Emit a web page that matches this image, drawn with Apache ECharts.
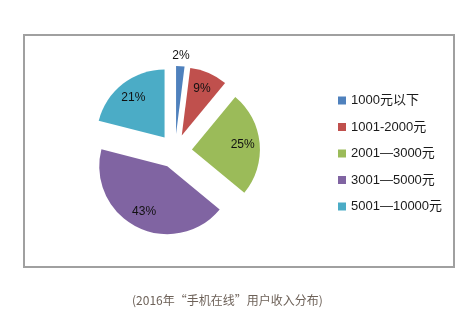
<!DOCTYPE html>
<html>
<head>
<meta charset="utf-8">
<script src="https://cdn.jsdelivr.net/npm/echarts@6/dist/echarts.min.js"></script>
<style>
  html, body { margin: 0; padding: 0; background: #fff; }
  #chart { width: 468px; height: 327px; }
</style>
</head>
<body>
<div id="chart"></div>
<script>
// Income brackets of mobile users, 2016 (share in %)
const categories = ['1000元以下', '1001-2000元', '2001—3000元', '3001—5000元', '5001—10000元'];
const shares = [2, 9, 25, 43, 21];
const colors = ['#4F81BD', '#C0504D', '#9BBB59', '#8064A2', '#4BACC6'];
const caption = '(2016年“手机在线”用户收入分布)';

const FONT = '"Liberation Sans", "Noto Sans CJK SC", sans-serif';
const CJK_FONT = '"Noto Sans CJK SC", sans-serif';
const CENTER = [175, 151];
const OFFSET = 17;

// shared data for the visible pie and the label rings; every slice is pulled out
function sliceData(labelFor) {
  return categories.map((name, i) => ({
    name,
    value: shares[i],
    selected: true,
    label: { show: labelFor(i) }
  }));
}

const labelRing = (radius, labelFor) => ({
  type: 'pie',
  silent: true,
  startAngle: 90,
  clockwise: true,
  center: CENTER,
  radius,
  selectedMode: 'multiple',
  selectedOffset: OFFSET,
  itemStyle: { color: 'rgba(0,0,0,0)' },
  select: { itemStyle: { color: 'rgba(0,0,0,0)' } },
  emphasis: { disabled: true },
  label: {
    position: 'inside',
    formatter: '{c}%',
    color: '#111',
    fontSize: 12,
    fontFamily: FONT
  },
  labelLine: { show: false },
  data: sliceData(labelFor),
  z: 3
});

const chart = echarts.init(document.getElementById('chart'), null, { renderer: 'canvas' });
chart.setOption({
  animation: false,
  color: colors,
  title: {
    text: caption,
    left: 127,
    top: 289,
    textStyle: { fontSize: 12, fontWeight: 'normal', color: '#6e6259', fontFamily: CJK_FONT }
  },
  graphic: [{
    type: 'rect',
    shape: { x: 24, y: 35, width: 430, height: 232 },
    style: { fill: '#fff', stroke: '#a0a0a0', lineWidth: 2 },
    z: -10
  }],
  legend: {
    orient: 'vertical',
    left: 333,
    top: 89,
    icon: 'rect',
    itemWidth: 8,
    itemHeight: 8,
    itemGap: 13.5,
    selectedMode: false,
    textStyle: { fontSize: 13, color: '#1a1a1a', fontFamily: FONT, lineHeight: 13, padding: [0, 0, 0, 0] },
    data: categories
  },
  series: [
    {
      type: 'pie',
      startAngle: 90,
      clockwise: true,
      center: CENTER,
      radius: 68,
      selectedMode: 'multiple',
      selectedOffset: OFFSET,
      emphasis: { disabled: true },
      label: { show: false },
      labelLine: { show: false },
      data: categories.map((name, i) => ({
        name,
        value: shares[i],
        selected: true,
        itemStyle: { color: colors[i] },
        select: { itemStyle: { color: colors[i] } }
      })),
      z: 2
    },
    labelRing([28, 68], i => i !== 0),
    labelRing([66, 86], i => i === 0)
  ]
});
</script>
</body>
</html>
